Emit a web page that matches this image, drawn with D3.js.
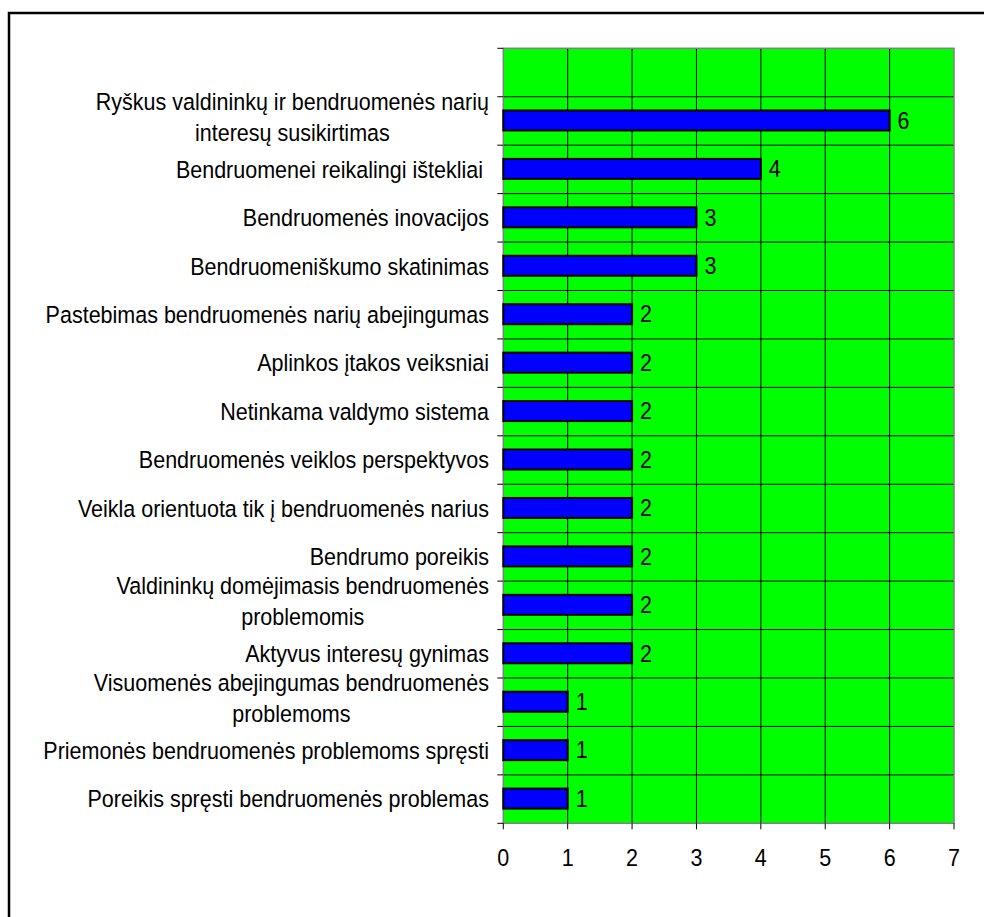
<!DOCTYPE html>
<html><head><meta charset="utf-8">
<script src="https://cdn.jsdelivr.net/npm/d3@7"></script>
<style>html,body{margin:0;padding:0;background:#fff;}svg{display:block;}text{font-family:"Liberation Sans",Arial,sans-serif;}</style>
</head><body>
<svg id="chart" width="984" height="917"></svg>
<script>
const categories = [
  "",
  "Ryškus valdininkų ir bendruomenės narių\ninteresų susikirtimas",
  "Bendruomenei reikalingi ištekliai ",
  "Bendruomenės inovacijos",
  "Bendruomeniškumo skatinimas",
  "Pastebimas bendruomenės narių abejingumas",
  "Aplinkos įtakos veiksniai",
  "Netinkama valdymo sistema",
  "Bendruomenės veiklos perspektyvos",
  "Veikla orientuota tik į bendruomenės narius",
  "Bendrumo poreikis",
  "Valdininkų domėjimasis bendruomenės\nproblemomis",
  "Aktyvus interesų gynimas",
  "Visuomenės abejingumas bendruomenės\nproblemoms",
  "Priemonės bendruomenės problemoms spręsti",
  "Poreikis spręsti bendruomenės problemas"
];
const values = [null, 6, 4, 3, 3, 2, 2, 2, 2, 2, 2, 2, 2, 1, 1, 1];
const xTicks = [0, 1, 2, 3, 4, 5, 6, 7];

const svg = d3.select("#chart");
const FONT = 23.5;
const SX = 0.915;
const plot = {left: 503.3, right: 954, top: 48.3, bottom: 823.3};

// helper: condensed text placed at (px, py)
function addText(parent, px, py, str, anchor) {
  const g = parent.append("g").attr("transform", `translate(${px},${py}) scale(${SX},1)`);
  return g.append("text").attr("x", 0).attr("y", 0).attr("dy", "0.35em")
    .attr("text-anchor", anchor || "start").attr("font-size", FONT).attr("fill", "#000")
    .style("white-space", "pre").text(str);
}

// outer frame (extends past the right/bottom edges)
svg.append("rect").attr("x", 9).attr("y", 13).attr("width", 1100).attr("height", 1100)
  .attr("fill", "none").attr("stroke", "#000").attr("stroke-width", 2.5);

const x = d3.scaleLinear().domain([0, 7]).range([plot.left, plot.right]);
const y = d3.scaleBand().domain(d3.range(categories.length)).range([plot.top, plot.bottom]).padding(0);
const bw = y.bandwidth();

// plot background
svg.append("rect").attr("x", plot.left).attr("y", plot.top)
  .attr("width", plot.right - plot.left).attr("height", plot.bottom - plot.top)
  .attr("fill", "#00ff00");

// vertical gridlines
svg.append("g").selectAll("line").data(xTicks.slice(1, -1)).join("line")
  .attr("x1", d => x(d)).attr("x2", d => x(d))
  .attr("y1", plot.top).attr("y2", plot.bottom)
  .attr("stroke", "#000").attr("stroke-width", 1);

// horizontal gridlines at category boundaries
svg.append("g").selectAll("line").data(d3.range(1, categories.length)).join("line")
  .attr("x1", plot.left).attr("x2", plot.right)
  .attr("y1", d => y(d)).attr("y2", d => y(d))
  .attr("stroke", "#000").attr("stroke-width", 1);

// plot border
svg.append("rect").attr("x", plot.left).attr("y", plot.top)
  .attr("width", plot.right - plot.left).attr("height", plot.bottom - plot.top)
  .attr("fill", "none").attr("stroke", "#808080").attr("stroke-width", 1.5);

// bars
const idx = d3.range(categories.length).filter(i => values[i] != null);
svg.append("g").selectAll("rect").data(idx).join("rect")
  .attr("x", x(0))
  .attr("y", i => y(i) + bw * 0.5 - 10.5)
  .attr("width", i => x(values[i]) - x(0))
  .attr("height", 20)
  .attr("fill", "#0000ff").attr("stroke", "#000").attr("stroke-width", 2);

// data labels
const dl = svg.append("g");
idx.forEach(i => addText(dl, x(values[i]) + 8, y(i) + bw * 0.5 - 0.5, String(values[i]), "start"));

// category axis ticks
svg.append("g").selectAll("line").data(d3.range(categories.length + 1)).join("line")
  .attr("x1", plot.left - 6).attr("x2", plot.left)
  .attr("y1", d => plot.top + d * bw).attr("y2", d => plot.top + d * bw)
  .attr("stroke", "#000").attr("stroke-width", 1);

// category labels
const labelRight = 489;
const lineH = 31;
const cl = svg.append("g");
categories.forEach((c, i) => {
  if (!c) return;
  const lines = c.split("\n");
  // measure
  const widths = lines.map(l => {
    const t = cl.append("text").attr("font-size", FONT).style("white-space", "pre").text(l);
    const w = t.node().getComputedTextLength() * SX;
    t.remove();
    return w;
  });
  const maxW = d3.max(widths);
  const cy = y(i) + bw / 2 - (lines.length > 1 ? 4 : 0);
  lines.forEach((l, k) => {
    addText(cl, labelRight - maxW / 2, cy + (k - (lines.length - 1) / 2) * lineH, l, "middle");
  });
});

// x axis ticks and labels
svg.append("g").selectAll("line").data(xTicks).join("line")
  .attr("x1", d => x(d)).attr("x2", d => x(d))
  .attr("y1", plot.bottom).attr("y2", plot.bottom + 6)
  .attr("stroke", "#000").attr("stroke-width", 1);
const xl = svg.append("g");
xTicks.forEach(d => addText(xl, x(d), 858, String(d), "middle"));
</script>
</body></html>
